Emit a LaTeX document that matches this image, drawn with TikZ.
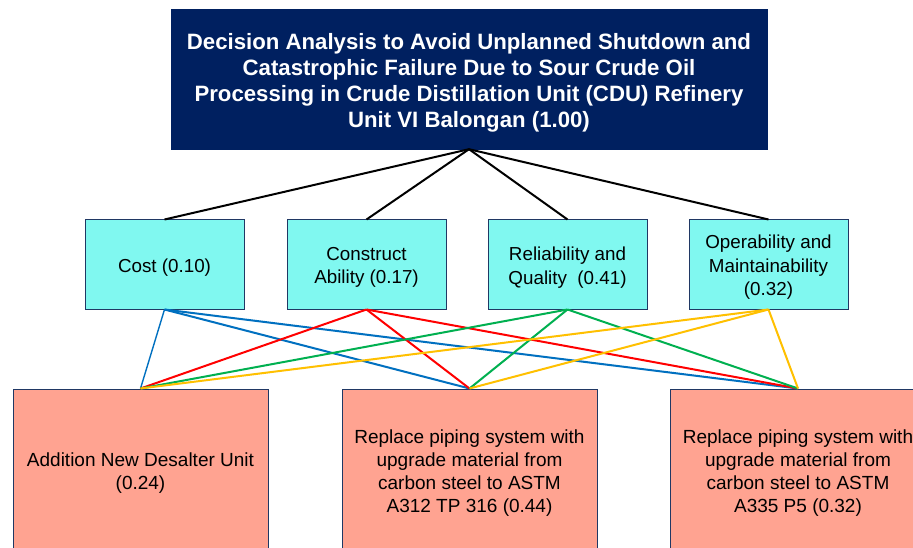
\documentclass[tikz,border=0pt]{standalone}
\usepackage{fontspec}
\setmainfont{Liberation Sans}
\definecolor{navy}{HTML}{002060}
\definecolor{boxline}{HTML}{203864}
\definecolor{critfill}{HTML}{80F8F0}
\definecolor{altfill}{HTML}{FFA391}
\definecolor{lblue}{HTML}{0070C0}
\definecolor{lred}{HTML}{FF0000}
\definecolor{lgreen}{HTML}{00B050}
\definecolor{lyellow}{HTML}{FFC000}
\begin{document}
\begin{tikzpicture}[x=1pt,y=-1pt,
  goalbox/.style={draw=navy, fill=navy, minimum width=596pt, minimum height=140pt, inner sep=0pt},
  goaltext/.style={text=white, font=\bfseries\fontsize{22.2}{26}\selectfont, align=center, inner sep=0pt, yshift=-4pt},
  critbox/.style={draw=boxline, fill=critfill, line width=1pt, minimum width=159pt, minimum height=89pt, inner sep=0pt},
  crittext/.style={font=\fontsize{18.8}{23.5}\selectfont, align=center, inner sep=0pt, yshift=-3pt},
  altbox/.style={draw=boxline, fill=altfill, line width=1pt, minimum width=255pt, minimum height=162pt, inner sep=0pt},
  alttext/.style={font=\fontsize{19}{23}\selectfont, align=center, inner sep=0pt, yshift=-3pt},
  blackline/.style={draw=black, line width=2pt},
  link/.style={line width=2pt}
]
\useasboundingbox (0,0) rectangle (913,548);
\clip (0,0) rectangle (913,548);
\fill[white] (0,0) rectangle (913,548);

\node[goalbox, label={[goaltext]center:Decision Analysis to Avoid Unplanned Shutdown and\\Catastrophic Failure Due to Sour Crude Oil\\Processing in Crude Distillation Unit (CDU) Refinery\\Unit VI Balongan (1.00)}] (goal) at (469,79) {};

\node[critbox, label={[crittext]center:Cost (0.10)}] (cost) at (164.5,264.5) {};
\node[critbox, label={[crittext]center:Construct\\Ability (0.17)}] (cons) at (366.5,264.5) {};
\node[critbox, label={[crittext]center:Reliability and\\Quality~ (0.41)}] (rel) at (567.5,264.5) {};
\node[critbox, label={[crittext]center:Operability and\\Maintainability\\(0.32)}] (ope) at (768.5,264.5) {};

\node[altbox, label={[alttext]center:Addition New Desalter Unit\\(0.24)}] (a1) at (140.5,470) {};
\node[altbox, label={[alttext]center:Replace piping system with\\upgrade material from\\carbon steel to ASTM\\A312 TP 316 (0.44)}] (a2) at (469.5,470) {};
\node[altbox, label={[alttext]center:Replace piping system with\\upgrade material from\\carbon steel to ASTM\\A335 P5 (0.32)}] (a3) at (798,470) {};

\foreach \c in {cost,cons,rel,ope}
  \draw[blackline] (goal.south) -- (\c.north);

\draw[link, lblue, line width=1.4pt] (cost.south) -- (a1.north);
\draw[link, lblue] (cost.south) -- (a2.north);
\draw[link, lblue] (cost.south) -- (a3.north);
\draw[link, lred] (cons.south) -- (a1.north);
\draw[link, lred] (cons.south) -- (a2.north);
\draw[link, lred] (cons.south) -- (a3.north);
\draw[link, lgreen] (rel.south) -- (a1.north);
\draw[link, lgreen] (rel.south) -- (a2.north);
\draw[link, lgreen] (rel.south) -- (a3.north);
\draw[link, lyellow] (ope.south) -- (a1.north);
\draw[link, lyellow] (ope.south) -- (a2.north);
\draw[link, lyellow] (ope.south) -- (a3.north);
\end{tikzpicture}
\end{document}
